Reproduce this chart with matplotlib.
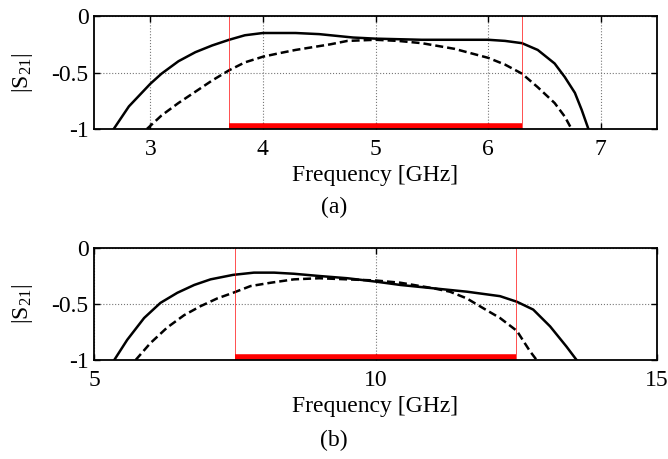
import matplotlib
matplotlib.use("Agg")
import matplotlib.pyplot as plt

plt.rcParams['font.family'] = ['Liberation Serif', 'DejaVu Serif']
plt.rcParams['mathtext.fontset'] = 'custom'
plt.rcParams['mathtext.rm'] = 'Liberation Serif'
plt.rcParams['axes.unicode_minus'] = False

# ---- data (a) ----
a_solid_f = [2.675, 2.81, 3.0, 3.10, 3.25, 3.40, 3.55, 3.70, 3.84, 4.0, 4.14, 4.29, 4.5, 4.8, 5.0, 5.41,
             5.70, 6.0, 6.15, 6.30, 6.44, 6.59, 6.68, 6.77, 6.83, 6.89]
a_solid_s = [-1.0, -0.80, -0.60, -0.51, -0.40, -0.32, -0.26, -0.21, -0.17, -0.15, -0.15, -0.15, -0.16, -0.19, -0.20, -0.21,
             -0.21, -0.21, -0.22, -0.24, -0.30, -0.42, -0.54, -0.68, -0.83, -1.0]
a_dash_f = [2.97, 3.10, 3.25, 3.40, 3.55, 3.70, 3.84, 4.0, 4.14, 4.29, 4.6, 4.75, 5.0, 5.2, 5.41,
            5.70, 5.85, 6.0, 6.15, 6.30, 6.44, 6.59, 6.68, 6.74]
a_dash_s = [-1.0, -0.88, -0.77, -0.67, -0.57, -0.48, -0.41, -0.36, -0.33, -0.30, -0.25, -0.22, -0.21, -0.22, -0.24,
            -0.29, -0.33, -0.37, -0.43, -0.51, -0.63, -0.77, -0.89, -1.0]
a_band = [3.7, 6.3]

# ---- data (b) ----
b_solid_f = [5.36, 5.59, 5.89, 6.18, 6.48, 6.78, 7.07, 7.47, 7.84, 8.20, 8.55, 9.0, 9.5, 10.0, 10.44,
             11.03, 11.62, 12.21, 12.51, 12.80, 13.10, 13.39, 13.57]
b_solid_s = [-1.0, -0.82, -0.625, -0.49, -0.40, -0.33, -0.28, -0.24, -0.22, -0.22, -0.23, -0.25, -0.27, -0.30, -0.33,
             -0.36, -0.39, -0.43, -0.48, -0.55, -0.70, -0.88, -1.0]
b_dash_f = [5.74, 6.0, 6.30, 6.60, 6.89, 7.19, 7.47, 7.78, 8.14, 8.55, 9.0, 9.5, 10.0, 10.44,
            11.03, 11.32, 11.62, 11.92, 12.21, 12.51, 12.74, 12.86]
b_dash_s = [-1.0, -0.85, -0.71, -0.60, -0.52, -0.45, -0.40, -0.34, -0.31, -0.28, -0.27, -0.28, -0.29, -0.31,
            -0.36, -0.39, -0.45, -0.54, -0.625, -0.74, -0.92, -1.0]
b_band = [7.5, 12.5]

panels = [
    dict(rect=[0.1407, 0.719, 0.843, 0.246], xlim=(2.5, 7.5), xticks=[3, 4, 5, 6, 7],
         solid=(a_solid_f, a_solid_s), dash=(a_dash_f, a_dash_s), band=a_band, tag='(a)', tagy=0.549),
    dict(rect=[0.1407, 0.2157, 0.843, 0.244], xlim=(5, 15), xticks=[5, 10, 15],
         solid=(b_solid_f, b_solid_s), dash=(b_dash_f, b_dash_s), band=b_band, tag='(b)', tagy=0.040),
]

fig = plt.figure(figsize=(6.68, 4.59), dpi=100)
fs = 17
for p in panels:
    ax = fig.add_axes(p['rect'])
    ax.set_xlim(*p['xlim'])
    ax.set_ylim(-1, 0)
    ax.set_xticks(p['xticks'])
    ax.set_yticks([-1, -0.5, 0])
    ax.set_yticklabels(['-1', '-0.5', '0'])
    ax.grid(True, color='#777777', linestyle=':', linewidth=0.8)
    ax.tick_params(direction='in', top=True, right=True, length=4, width=1, labelsize=fs)
    ax.tick_params(axis='x', pad=7)
    ax.tick_params(axis='y', pad=4)
    for s in ax.spines.values():
        s.set_linewidth(1.3)
    ax.plot(*p['solid'], color='black', lw=1.8, solid_joinstyle='round')
    ax.plot(*p['dash'], color='black', lw=1.8, linestyle=(0, (3.2, 1.6)))
    for xv in p['band']:
        ax.axvline(xv, color='red', lw=0.6, alpha=0.8)
    ax.hlines(-0.975, p['band'][0], p['band'][1], color='red', lw=4)
    ax.set_xlabel('Frequency [GHz]', fontsize=fs, labelpad=4)
    ax.set_ylabel(r'|$\mathregular{S_{21}}$|', fontsize=fs, labelpad=12)
    fig.text(0.5, p['tagy'], p['tag'], ha='center', va='center', fontsize=fs)

fig.savefig('out.png', dpi=100)
